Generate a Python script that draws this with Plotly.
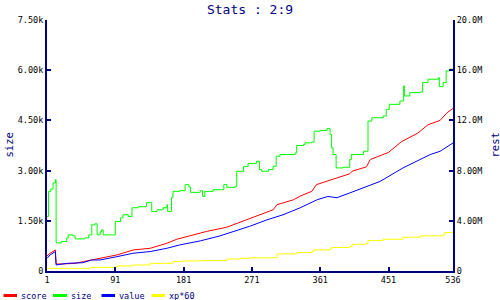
import plotly.graph_objects as go

# ---------------- data ----------------
size_x = [1, 3, 6, 9, 12, 13, 20, 27, 29, 35, 38, 51, 56, 60, 64, 67, 71, 73, 75, 89, 91, 98, 101, 108,
          113, 121, 132, 134, 139, 146, 154, 159, 160, 165, 167, 176, 183, 188, 190, 203, 206, 209, 220,
          231, 234, 238, 249, 251, 260, 266, 277, 281, 284, 293, 299, 303, 308, 328, 330, 339, 341, 350,
          353, 361, 370, 372, 374, 376, 378, 382, 391, 400, 402, 418, 422, 424, 429, 444, 448, 452, 466,
          471, 472, 479, 493, 496, 503, 517, 518, 523, 527, 532, 536]
size_y = [1630, 2380, 2450, 2630, 2730, 840, 880, 990, 1080, 1050, 960, 990, 1080, 1380, 1410, 1080, 1170,
          1230, 1080, 1080, 1480, 1590, 1680, 1630, 1890, 1920, 2040, 2050, 1780, 1830, 1890, 1980, 1780,
          2190, 2380, 2400, 2580, 2510, 2350, 2400, 2230, 2380, 2430, 2430, 2580, 2500, 2530, 2980, 3120,
          3210, 3280, 3030, 2980, 3030, 3130, 3430, 3480, 3530, 3750, 3780, 3830, 3850, 4180, 4200, 4260,
          4260, 4080, 3680, 3480, 3080, 3100, 3330, 3480, 3580, 3580, 4480, 4580, 4630, 4830, 4980, 5080,
          5530, 5230, 5330, 5350, 5630, 5730, 5780, 5510, 5630, 5980, 6030, 6030]

score_x = [1, 5, 12, 13, 22, 38, 49, 71, 93, 115, 137, 159, 172, 189, 211, 238, 255, 268, 299, 304, 326,
           334, 350, 356, 376, 400, 403, 422, 427, 451, 468, 490, 503, 519, 528, 536]
score_y = [1.20e6, 1.41e6, 1.68e6, 0.56e6, 0.56e6, 0.61e6, 0.75e6, 1.01e6, 1.28e6, 1.68e6, 1.81e6, 2.21e6,
           2.53e6, 2.80e6, 3.15e6, 3.49e6, 3.87e6, 4.15e6, 4.88e6, 5.28e6, 5.68e6, 5.95e6, 6.35e6, 6.88e6,
           7.28e6, 7.75e6, 7.95e6, 8.30e6, 8.88e6, 9.45e6, 10.3e6, 11.0e6, 11.65e6, 12.0e6, 12.6e6, 12.95e6]

value_x = [1, 5, 12, 13, 27, 48, 60, 71, 93, 114, 137, 159, 176, 203, 229, 246, 268, 291, 312, 334, 357,
           371, 383, 400, 417, 440, 470, 483, 506, 519, 536]
value_y = [1.01e6, 1.28e6, 1.55e6, 0.48e6, 0.61e6, 0.66e6, 0.88e6, 0.88e6, 1.14e6, 1.41e6, 1.55e6, 1.81e6,
           2.08e6, 2.40e6, 2.80e6, 3.12e6, 3.56e6, 4.08e6, 4.48e6, 5.02e6, 5.68e6, 5.94e6, 5.84e6, 6.22e6,
           6.62e6, 7.14e6, 8.21e6, 8.61e6, 9.28e6, 9.54e6, 10.2e6]

xp_x = [1, 44, 58, 93, 114, 137, 167, 180, 203, 238, 255, 268, 301, 304, 326, 330, 350, 352, 374, 376, 400,
        403, 422, 424, 444, 470, 493, 523, 525, 536]
xp_y = [0.21e6, 0.21e6, 0.29e6, 0.40e6, 0.48e6, 0.61e6, 0.75e6, 0.80e6, 0.83e6, 0.96e6, 1.01e6, 1.05e6,
        1.07e6, 1.36e6, 1.36e6, 1.47e6, 1.55e6, 1.68e6, 1.76e6, 1.87e6, 1.95e6, 2.13e6, 2.21e6, 2.43e6,
        2.53e6, 2.69e6, 2.80e6, 2.88e6, 3.07e6, 3.09e6]

x_ticks = [1, 91, 181, 271, 361, 451, 536]
left_ticks = [0, 1500, 3000, 4500, 6000, 7500]
left_labels = ["0", "1.50k", "3.00k", "4.50k", "6.00k", "7.50k"]
right_ticks = [0, 4e6, 8e6, 12e6, 16e6, 20e6]
right_labels = ["0", "4.00M", "8.00M", "12.0M", "16.0M", "20.0M"]

series_names = ["score", "size", "value", "xp*60"]
series_colors = ["#ff0000", "#00ff00", "#0000ff", "#ffff00"]

# ---------------- figure ----------------
W, H = 500, 300
ML, MR, MT, MB = 47, 47, 20, 29
NAVY = "#000080"
FONT = "DejaVu Sans Mono"

def px2paper_x(px):
    return (px - ML) / (W - ML - MR)

def px2paper_y(py):
    return (H - MB - py) / (H - MT - MB)

fig = go.Figure()
fig.add_trace(go.Scatter(x=score_x, y=score_y, mode="lines", name="score", yaxis="y2",
                         line=dict(color=series_colors[0], width=1)))
fig.add_trace(go.Scatter(x=size_x, y=size_y, mode="lines", name="size", yaxis="y",
                         line=dict(color=series_colors[1], width=1, shape="hv")))
fig.add_trace(go.Scatter(x=value_x, y=value_y, mode="lines", name="value", yaxis="y2",
                         line=dict(color=series_colors[2], width=1)))
fig.add_trace(go.Scatter(x=xp_x, y=xp_y, mode="lines", name="xp*60", yaxis="y2",
                         line=dict(color=series_colors[3], width=1, shape="hv")))

tickfont = dict(family=FONT, size=8.5, color="black")
axis_common = dict(showline=True, linecolor=NAVY, linewidth=2, ticks="inside", ticklen=4,
                   tickwidth=2, tickcolor=NAVY, showgrid=False, zeroline=False, tickfont=tickfont)

fig.update_layout(
    width=W, height=H,
    margin=dict(l=ML, r=MR, t=MT, b=MB),
    paper_bgcolor="white", plot_bgcolor="white",
    showlegend=False,
    title=dict(text="Stats : 2:9", x=0.5, xanchor="center", y=1 - 9 / H, yanchor="middle",
               yref="container", font=dict(family=FONT, size=13, color=NAVY)),
    xaxis=dict(range=[1, 536], tickvals=x_ticks, ticktext=[str(v) for v in x_ticks], **axis_common),
    yaxis=dict(range=[0, 7500], tickvals=left_ticks, ticktext=left_labels, **axis_common),
    yaxis2=dict(range=[0, 20e6], tickvals=right_ticks, ticktext=right_labels, overlaying="y",
                side="right", **axis_common),
)

annotations = [
    dict(text="size", xref="paper", yref="paper", x=px2paper_x(8), y=px2paper_y(145.5),
         textangle=-90, showarrow=False, xanchor="center", yanchor="middle",
         font=dict(family=FONT, size=10.5, color=NAVY)),
    dict(text="rest", xref="paper", yref="paper", x=px2paper_x(494), y=px2paper_y(145.5),
         textangle=-90, showarrow=False, xanchor="center", yanchor="middle",
         font=dict(family=FONT, size=10.5, color=NAVY)),
]
shapes = []
legend_line_px = [(3.5, 17), (53, 67), (101.5, 115), (151.5, 165)]
legend_text_px = [19, 68.5, 117, 166.5]
leg_y = 295.5
for name, col, (x0, x1), tx in zip(series_names, series_colors, legend_line_px, legend_text_px):
    shapes.append(dict(type="line", xref="paper", yref="paper", x0=px2paper_x(x0), x1=px2paper_x(x1),
                       y0=px2paper_y(leg_y), y1=px2paper_y(leg_y), line=dict(color=col, width=3)))
    annotations.append(dict(text=name, xref="paper", yref="paper", x=px2paper_x(tx), y=px2paper_y(leg_y),
                            showarrow=False, xanchor="left", yanchor="middle",
                            font=dict(family=FONT, size=8.5, color=NAVY)))
fig.update_layout(annotations=annotations, shapes=shapes)

fig.write_html("out.html")
